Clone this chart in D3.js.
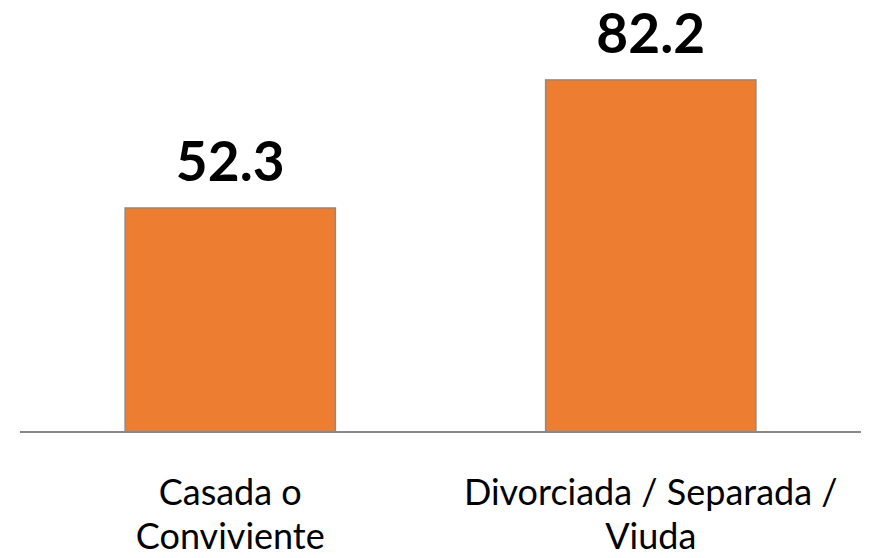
<!DOCTYPE html>
<html>
<head>
<meta charset="utf-8">
<script src="https://cdn.jsdelivr.net/npm/d3@7"></script>
<style>
  body { margin: 0; background: #fff; }
  svg { display: block; }
</style>
</head>
<body>
<svg id="chart" width="869" height="558"></svg>
<script>
// data
const categories = ['Casada o|Conviviente', 'Divorciada / Separada /|Viuda'];
const values = [52.3, 82.2];

const svg = d3.select('#chart');

const x = d3.scaleBand()
    .domain(categories)
    .range([20, 861])
    .paddingInner(0.5)
    .paddingOuter(0.25);

const y = d3.scaleLinear()
    .domain([0, 100])
    .range([432, 3.7]);

// bars
svg.selectAll('rect.bar')
    .data(categories)
    .join('rect')
    .attr('class', 'bar')
    .attr('x', d => x(d))
    .attr('y', (d, i) => y(values[i]))
    .attr('width', x.bandwidth())
    .attr('height', (d, i) => y(0) - y(values[i]))
    .style('fill', '#ED7D31')
    .style('stroke', '#8a8a8a')
    .style('stroke-width', 1.5);

// baseline
svg.append('line')
    .attr('x1', 20).attr('x2', 861)
    .attr('y1', y(0)).attr('y2', y(0))
    .style('stroke', '#8c8888')
    .style('stroke-width', 2);

// value labels
svg.selectAll('text.value')
    .data(categories)
    .join('text')
    .attr('class', 'value')
    .attr('x', d => x(d) + x.bandwidth() / 2)
    .attr('y', (d, i) => y(values[i]) - 27)
    .attr('text-anchor', 'middle')
    .style('font-family', 'Lato, sans-serif')
    .style('font-weight', 'bold')
    .style('font-size', '55px')
    .text((d, i) => values[i].toFixed(1));

// category labels, two lines each
const cat = svg.selectAll('text.cat')
    .data(categories)
    .join('text')
    .attr('class', 'cat')
    .attr('text-anchor', 'middle')
    .style('font-family', 'Lato, sans-serif')
    .style('font-size', '36px')
    .style('fill', '#000');

cat.selectAll('tspan')
    .data(d => d.split('|').map(t => ({ t, c: d })))
    .join('tspan')
    .attr('x', d => x(d.c) + x.bandwidth() / 2)
    .attr('y', (d, i) => 505 + i * 44)
    .text(d => d.t);
</script>
</body>
</html>
